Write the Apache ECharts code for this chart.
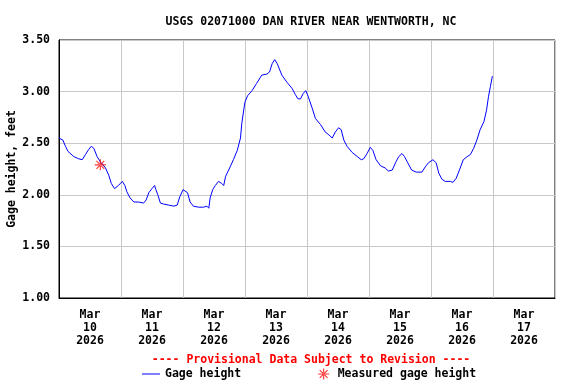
<!DOCTYPE html>
<html>
<head>
<meta charset="utf-8">
<script src="https://cdn.jsdelivr.net/npm/echarts@6/dist/echarts.min.js"></script>
<style>html,body{margin:0;padding:0;background:#fff}#c{width:576px;height:384px}</style>
</head>
<body>
<div id="c"></div>
<script>
const titleText = 'USGS 02071000 DAN RIVER NEAR WENTWORTH, NC';
const provisionalText = '---- Provisional Data Subject to Revision ----';
const yAxisName = 'Gage height, feet';
const dayLabels = ['Mar\n10\n2026','Mar\n11\n2026','Mar\n12\n2026','Mar\n13\n2026','Mar\n14\n2026','Mar\n15\n2026','Mar\n16\n2026','Mar\n17\n2026'];
const xMin = '2026-03-10 00:00';
const xMax = '2026-03-18 00:00';

const times = [
'2026-03-10 00:00','2026-03-10 01:30','2026-03-10 02:30','2026-03-10 03:30','2026-03-10 05:45','2026-03-10 07:30','2026-03-10 09:00','2026-03-10 10:15','2026-03-10 11:30','2026-03-10 12:30','2026-03-10 13:30','2026-03-10 14:45','2026-03-10 16:00','2026-03-10 18:00','2026-03-10 19:15','2026-03-10 20:15','2026-03-10 21:30','2026-03-10 23:00',
'2026-03-11 00:30','2026-03-11 01:30','2026-03-11 02:15','2026-03-11 03:30','2026-03-11 05:00','2026-03-11 06:45','2026-03-11 08:45','2026-03-11 09:45','2026-03-11 10:45','2026-03-11 12:00','2026-03-11 13:00','2026-03-11 13:30','2026-03-11 14:15','2026-03-11 15:15','2026-03-11 16:30','2026-03-11 18:30','2026-03-11 20:30','2026-03-11 21:45','2026-03-11 22:45',
'2026-03-12 00:00','2026-03-12 00:45','2026-03-12 01:45','2026-03-12 02:45','2026-03-12 04:00','2026-03-12 06:00','2026-03-12 08:00','2026-03-12 09:15','2026-03-12 10:00','2026-03-12 10:30','2026-03-12 11:30','2026-03-12 12:30','2026-03-12 13:45','2026-03-12 15:00','2026-03-12 15:45','2026-03-12 16:30','2026-03-12 17:00','2026-03-12 18:15','2026-03-12 19:30','2026-03-12 21:00','2026-03-12 22:15','2026-03-12 22:45','2026-03-12 23:30',
'2026-03-13 00:00','2026-03-13 01:00','2026-03-13 02:45','2026-03-13 04:30','2026-03-13 06:30','2026-03-13 08:30','2026-03-13 09:30','2026-03-13 10:30','2026-03-13 11:30','2026-03-13 12:30','2026-03-13 14:15','2026-03-13 16:15','2026-03-13 18:15','2026-03-13 19:30','2026-03-13 20:30','2026-03-13 21:30','2026-03-13 22:30','2026-03-13 23:30',
'2026-03-14 00:30','2026-03-14 02:00','2026-03-14 03:15','2026-03-14 05:15','2026-03-14 07:00','2026-03-14 08:30','2026-03-14 09:45','2026-03-14 11:00','2026-03-14 12:15','2026-03-14 13:15','2026-03-14 14:15','2026-03-14 15:30','2026-03-14 17:30','2026-03-14 19:30','2026-03-14 21:00','2026-03-14 22:00','2026-03-14 23:15',
'2026-03-15 00:30','2026-03-15 01:30','2026-03-15 02:45','2026-03-15 04:30','2026-03-15 06:15','2026-03-15 07:30','2026-03-15 09:00','2026-03-15 10:15','2026-03-15 11:30','2026-03-15 12:45','2026-03-15 13:45','2026-03-15 15:00','2026-03-15 16:30','2026-03-15 18:15','2026-03-15 20:30','2026-03-15 21:45','2026-03-15 23:00',
'2026-03-16 00:45','2026-03-16 02:00','2026-03-16 03:00','2026-03-16 04:15','2026-03-16 05:30','2026-03-16 07:30','2026-03-16 08:30','2026-03-16 09:45','2026-03-16 11:00','2026-03-16 12:30','2026-03-16 14:00','2026-03-16 15:15','2026-03-16 16:30','2026-03-16 17:45','2026-03-16 19:00','2026-03-16 20:30','2026-03-16 21:30','2026-03-16 22:15','2026-03-16 23:00','2026-03-16 23:45'
];
const heights = [
2.55,2.53,2.47,2.42,2.37,2.35,2.34,2.39,2.44,2.47,2.45,2.37,2.32,2.26,2.19,2.11,2.06,2.09,
2.13,2.09,2.03,1.97,1.93,1.93,1.92,1.95,2.02,2.06,2.09,2.05,2.00,1.92,1.91,1.90,1.89,1.90,1.98,
2.05,2.06,2.02,1.93,1.89,1.88,1.88,1.89,1.87,1.97,2.05,2.09,2.13,2.11,2.09,2.18,2.18,2.27,2.34,2.43,2.55,2.69,2.82,
2.90,2.96,3.01,3.08,3.16,3.17,3.19,3.27,3.31,3.27,3.16,3.09,3.03,2.97,2.93,2.93,2.98,3.01,
2.95,2.84,2.74,2.68,2.61,2.58,2.55,2.61,2.65,2.63,2.53,2.47,2.41,2.37,2.34,2.35,2.40,
2.46,2.43,2.34,2.28,2.26,2.23,2.24,2.31,2.37,2.40,2.37,2.31,2.24,2.22,2.22,2.27,2.31,
2.34,2.31,2.21,2.15,2.13,2.13,2.12,2.16,2.24,2.34,2.37,2.39,2.45,2.53,2.63,2.71,2.82,2.95,3.05,3.15
];
const measuredTimes = ['2026-03-10 16:00'];
const measuredHeights = [2.29];

const font = "'DejaVu Sans Mono', 'Liberation Mono', monospace";
const starPath = 'path://M-5,-0.5L5,-0.5L5,0.5L-5,0.5Z M-0.5,-5L0.5,-5L0.5,5L-0.5,5Z M-3.9,-3.2L3.2,3.9L3.9,3.2L-3.2,-3.9Z M3.9,-3.2L-3.2,3.9L-3.9,3.2L3.2,-3.9Z';
const linePath = 'path://M0,0L18,0L18,1L0,1Z';

const chart = echarts.init(document.getElementById('c'), null, {renderer: 'canvas'});
chart.setOption({
  animation: false,
  backgroundColor: '#fff',
  title: [
    {text: titleText, left: 306, top: 11, textAlign: 'center',
     textStyle: {fontFamily: font, fontSize: 11.5, fontWeight: 'bold', color: '#000'}},
    {text: provisionalText, left: 306, top: 349, textAlign: 'center',
     textStyle: {fontFamily: font, fontSize: 11.5, fontWeight: 'bold', color: '#ff0000'}}
  ],
  legend: {
    left: 137, top: 363, itemWidth: 18, itemHeight: 11, itemGap: 77, symbolKeepAspect: true,
    textStyle: {fontFamily: font, fontSize: 11.5, fontWeight: 'bold', color: '#000'},
    data: [{name: 'Gage height', icon: linePath}, {name: 'Measured gage height', icon: starPath}]
  },
  grid: {left: 59, right: 21, top: 40, bottom: 86, show: true, borderColor: '#000', borderWidth: 1,
         containLabel: false, outerBoundsMode: 'none'},
  xAxis: [
    {type: 'time', min: xMin, max: xMax, show: false},
    {type: 'category', data: dayLabels, boundaryGap: true, position: 'bottom',
     axisLine: {show: true, lineStyle: {color: '#000'}}, axisTick: {show: false},
     splitLine: {show: true, interval: 0, lineStyle: {color: '#c8c8c8', width: 1}},
     axisLabel: {interval: 0, margin: 11, lineHeight: 13, fontFamily: font, fontSize: 11.5, fontWeight: 'bold', color: '#000'}}
  ],
  yAxis: {
    type: 'value', min: 1, max: 3.5, interval: 0.5,
    name: yAxisName, nameLocation: 'middle', nameGap: 41, nameMoveOverlap: false,
    nameTextStyle: {fontFamily: font, fontSize: 11.5, fontWeight: 'bold', color: '#000'},
    axisLine: {show: true, lineStyle: {color: '#000'}}, axisTick: {show: false},
    splitLine: {show: true, lineStyle: {color: '#c8c8c8', width: 1}},
    axisLabel: {margin: 9, formatter: v => v.toFixed(2), fontFamily: font, fontSize: 11.5, fontWeight: 'bold', color: '#000'}
  },
  series: [
    {name: 'Gage height', type: 'line', xAxisIndex: 0, symbol: 'none',
     lineStyle: {color: '#0000ff', width: 1}, itemStyle: {color: '#0000ff'},
     data: times.map((t, i) => [t, heights[i]])},
    {name: 'Measured gage height', type: 'scatter', xAxisIndex: 0, symbol: starPath, symbolSize: 11,
     itemStyle: {color: '#ff0000'}, z: 5,
     data: measuredTimes.map((t, i) => [t, measuredHeights[i]])}
  ]
});
</script>
</body>
</html>
